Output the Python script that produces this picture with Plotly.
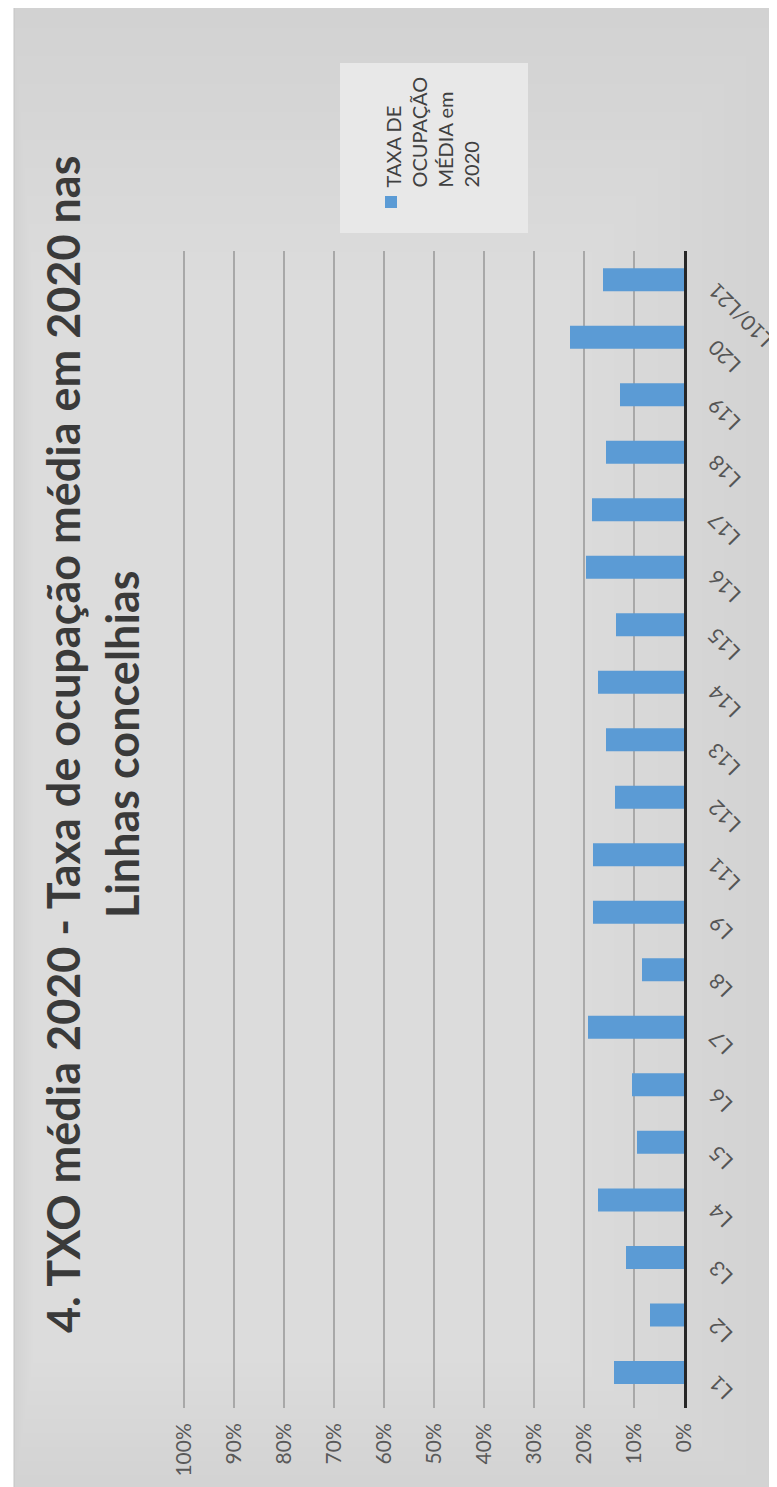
import plotly.graph_objects as go

categories = ["L1", "L2", "L3", "L4", "L5", "L6", "L7", "L8", "L9", "L11",
              "L12", "L13", "L14", "L15", "L16", "L17", "L18", "L19", "L20", "L10/L21"]
values = [0.140, 0.068, 0.116, 0.172, 0.094, 0.104, 0.192, 0.084, 0.182, 0.182,
          0.138, 0.156, 0.172, 0.136, 0.196, 0.184, 0.156, 0.128, 0.228, 0.162]
tick_vals = [0.0, 0.1, 0.2, 0.3, 0.4, 0.5, 0.6, 0.7, 0.8, 0.9, 1.0]
tick_text = ["0%", "10%", "20%", "30%", "40%", "50%", "60%", "70%", "80%", "90%", "100%"]
series_name = "TAXA DE<br>OCUPAÇÃO<br>MÉDIA em<br>2020"
title_text = "4. TXO média 2020 - Taxa de ocupação média em 2020 nas<br>Linhas concelhias"

W, H = 777, 1487
L, R, T, B = 174, 101, 243, 87
PW, PH = W - L - R, H - T - B

def px(x):
    return (x - L) / PW

def py(y):
    return (H - B - y) / PH

BAR = "#5b9bd5"
FONT = "Lato"

fig = go.Figure()
fig.add_trace(go.Bar(
    y=categories, x=values, orientation="h",
    marker=dict(color=BAR, line=dict(width=0)),
    name="TAXA DE OCUPAÇÃO MÉDIA em 2020", showlegend=False,
))

shapes = []
# background panel
shapes.append(dict(type="rect", xref="paper", yref="paper", layer="below",
                   x0=px(6), x1=px(W + 5), y0=py(1482), y1=py(-5),
                   fillcolor="#d2d2d2", line=dict(color="#c4c4c4", width=1)))
# soft lighter centre to mimic the scanned gradient
n = 14
for i in range(n):
    shapes.append(dict(type="rect", xref="paper", yref="paper", layer="below",
                       x0=px(7 + i * 2), x1=px(760 - i * 22),
                       y0=py(1481 - i * 14), y1=py(20 + i * 28),
                       fillcolor="rgba(255,255,255,0.028)", line=dict(width=0)))
# legend box
shapes.append(dict(type="rect", xref="paper", yref="paper", layer="below",
                   x0=px(332), x1=px(520), y0=py(225), y1=py(55),
                   fillcolor="#e8e8e8", line=dict(width=0)))
# legend marker
shapes.append(dict(type="rect", xref="paper", yref="paper",
                   x0=px(377), x1=px(389), y0=py(200), y1=py(188),
                   fillcolor=BAR, line=dict(width=0)))

annotations = []
annotations.append(dict(xref="paper", yref="paper", x=px(84), y=py(737),
                        text="<b>" + title_text + "</b>", showarrow=False,
                        textangle=-90, xanchor="center", yanchor="middle",
                        align="center",
                        font=dict(family=FONT, size=45, color="#3a3a3a")))
annotations.append(dict(xref="paper", yref="paper", x=px(371), y=py(182),
                        text=series_name, showarrow=False, textangle=-90,
                        xanchor="left", yanchor="bottom", align="left",
                        font=dict(family=FONT, size=20, color="#404040")))
for c in categories:
    annotations.append(dict(xref="paper", yref="y", x=px(692), y=c,
                            text=c, showarrow=False, textangle=-135,
                            xanchor="left", yanchor="top", yshift=4,
                            font=dict(family=FONT, size=21, color="#555555")))

fig.update_layout(
    width=W, height=H,
    margin=dict(l=L, r=R, t=T, b=B, pad=0),
    paper_bgcolor="white", plot_bgcolor="rgba(0,0,0,0)",
    bargap=0.6, showlegend=False,
    shapes=shapes, annotations=annotations,
    xaxis=dict(range=[1.004, 0.0], tickvals=tick_vals, ticktext=tick_text,
               tickangle=-90, showgrid=True, gridcolor="#a8a8a8", gridwidth=1.5,
               zeroline=False, showline=False, ticks="",
               ticklabelstandoff=10,
               tickfont=dict(family=FONT, size=21, color="#595959")),
    yaxis=dict(type="category", categoryorder="array", categoryarray=categories,
               side="right", showticklabels=False, showgrid=False, zeroline=False,
               showline=True, linecolor="#262626", linewidth=2.5, ticks=""),
)

fig.write_html("out.html")
